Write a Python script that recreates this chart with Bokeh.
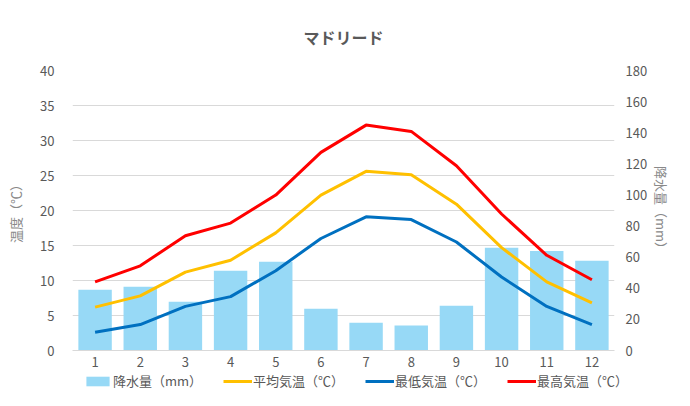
from bokeh.plotting import figure
from bokeh.layouts import column
from bokeh.models import ColumnDataSource, Range1d, LinearAxis, Legend, LegendItem, FixedTicker
from bokeh.embed import file_html
from bokeh.resources import INLINE

months = [1, 2, 3, 4, 5, 6, 7, 8, 9, 10, 11, 12]
precip = [39.1, 41.0, 31.4, 51.2, 57.0, 26.9, 17.9, 16.0, 28.8, 66.0, 64.0, 57.7]
t_avg = [6.2, 7.8, 11.2, 12.9, 16.8, 22.2, 25.6, 25.1, 20.9, 14.7, 9.8, 6.8]
t_min = [2.6, 3.7, 6.3, 7.7, 11.4, 16.0, 19.1, 18.7, 15.5, 10.5, 6.3, 3.7]
t_max = [9.8, 12.1, 16.4, 18.2, 22.2, 28.3, 32.2, 31.3, 26.4, 19.5, 13.6, 10.1]

title = "マドリード"
labels = ["降水量（mm）", "平均気温（℃）", "最低気温（℃）", "最高気温（℃）"]
y_left_label = "温度（℃）"
y_right_label = "降水量（mm）"

FONT = "Noto Sans CJK JP"
TXT = "#595959"
LBL = "#898989"
BAR = "#97d9f6"
C_AVG, C_MIN, C_MAX = "#ffc000", "#0070c0", "#ff0000"

src = ColumnDataSource(dict(m=months, p=precip, avg=t_avg, mn=t_min, mx=t_max))

p = figure(width=674, height=372, output_backend="svg", toolbar_location=None,
           x_range=Range1d(0.5, 12.5), y_range=Range1d(0, 40),
           min_border_left=72, min_border_right=50, min_border_top=69, min_border_bottom=22)
p.extra_y_ranges = {"rain": Range1d(0, 180)}

p.title.text = title
p.title.align = "center"
p.title.text_font = FONT
p.title.text_font_size = "16px"
p.title.text_font_style = "bold"
p.title.text_color = TXT
p.title.standoff = 44
p.outline_line_color = None
p.xgrid.grid_line_color = None
p.ygrid.grid_line_color = "#d9d9d9"
p.ygrid.ticker = FixedTicker(ticks=list(range(0, 41, 5)))

p.vbar(x="m", top="p", width=0.74, source=src, y_range_name="rain",
       fill_color=BAR, line_color=None)
p.line("m", "avg", source=src, line_color=C_AVG, line_width=3)
p.line("m", "mn", source=src, line_color=C_MIN, line_width=3)
p.line("m", "mx", source=src, line_color=C_MAX, line_width=3)


def style_axis(ax, standoff):
    ax.major_tick_line_color = None
    ax.minor_tick_line_color = None
    ax.major_tick_out = 0
    ax.minor_tick_out = 0
    ax.major_tick_in = 0
    ax.minor_tick_in = 0
    ax.major_label_text_font = FONT
    ax.major_label_text_font_size = "13px"
    ax.major_label_text_color = TXT
    ax.major_label_standoff = standoff
    ax.axis_label_text_font = FONT
    ax.axis_label_text_font_size = "13px"
    ax.axis_label_text_font_style = "normal"
    ax.axis_label_text_color = LBL


xa = p.xaxis[0]
xa.ticker = FixedTicker(ticks=months)
xa.axis_line_color = "#d9d9d9"
style_axis(xa, 6)

ya = p.yaxis[0]
ya.ticker = FixedTicker(ticks=list(range(0, 41, 5)))
ya.axis_line_color = None
style_axis(ya, 18)
ya.axis_label = y_left_label
ya.axis_label_standoff = 12

ra = LinearAxis(y_range_name="rain", ticker=FixedTicker(ticks=list(range(0, 181, 20))))
ra.axis_line_color = None
style_axis(ra, 11)
ra.axis_label = y_right_label
ra.axis_label_standoff = 2
p.add_layout(ra, "right")

# legend strip below the chart (its sample glyphs lie outside its ranges)
lg = figure(width=674, height=18, output_backend="svg", toolbar_location=None,
            x_range=Range1d(100, 101), y_range=Range1d(100, 101),
            x_axis_location=None, y_axis_location=None, min_border=0)
lg.outline_line_color = None
lg.grid.grid_line_color = None
legend_x = 11
try:
    lg.frame_align = False
    p.frame_align = False
    legend_x = 83
except AttributeError:
    pass

r_bar = lg.vbar(x="m", top="p", width=0.74, source=src, fill_color=BAR, line_color=None)
r_avg = lg.line("m", "avg", source=src, line_color=C_AVG, line_width=3)
r_min = lg.line("m", "mn", source=src, line_color=C_MIN, line_width=3)
r_max = lg.line("m", "mx", source=src, line_color=C_MAX, line_width=3)

legend = Legend(items=[LegendItem(label=labels[0], renderers=[r_bar]),
                       LegendItem(label=labels[1], renderers=[r_avg]),
                       LegendItem(label=labels[2], renderers=[r_min]),
                       LegendItem(label=labels[3], renderers=[r_max])],
                orientation="horizontal", location=(legend_x, 0),
                label_text_font=FONT, label_text_font_size="13px", label_text_color=TXT,
                label_height=14, glyph_width=29, glyph_height=12, spacing=21, label_standoff=1,
                background_fill_alpha=0, border_line_color=None, padding=0, margin=0)
lg.add_layout(legend, "center")

layout = column(p, lg, spacing=0)
open("out.html", "w").write(file_html(layout, INLINE))
